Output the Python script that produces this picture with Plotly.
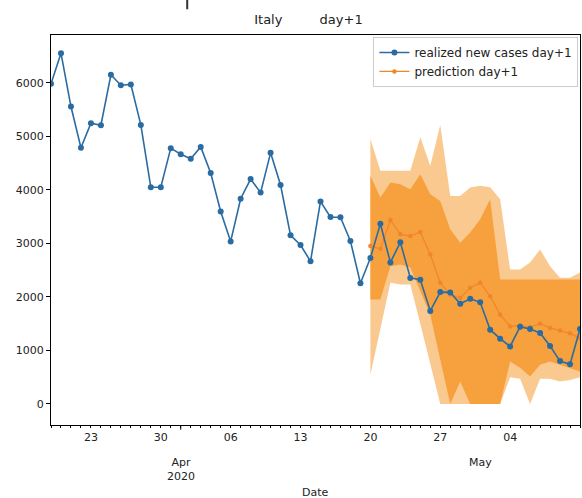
import plotly.graph_objects as go
import pandas as pd

# ---- data ----
realized_dates = pd.date_range("2020-03-19", "2020-05-11", freq="D")
realized_values = [
    5986, 6557, 5560, 4789, 5249, 5210, 6153, 5959, 5974, 5217, 4050, 4053, 4782,
    4668, 4585, 4805, 4316, 3599, 3039, 3836, 4204, 3951, 4694, 4092, 3153, 2972,
    2667, 3786, 3493, 3491, 3047, 2256, 2729, 3370, 2646, 3021, 2357, 2324, 1739,
    2091, 2086, 1872, 1965,
    1900, 1389, 1221, 1075, 1444, 1401, 1327, 1083, 802, 744, 1402,
]

pred_dates = pd.date_range("2020-04-20", "2020-05-11", freq="D")
pred_values = [2951, 2902, 3439, 3171, 3139, 3214, 2795, 2264, 2045, 1983, 2171,
               2264, 2013, 1670, 1450, 1470, 1439, 1500, 1420, 1375, 1320, 1230]
outer_upper = [4953, 4358, 4358, 4358, 4358, 4985, 4452, 5216, 3889, 3889, 4047,
               4077, 4053, 3827, 2514, 2514, 2645, 2889, 2576, 2358, 2358, 2458]
outer_lower = [544, 1400, 2264, 2233, 2233, 1500, 750, 0, 0, 0, 0,
               0, 0, 0, 500, 470, 0, 470, 470, 420, 450, 500]
inner_upper = [4265, 3859, 4141, 4109, 4015, 4296, 3921, 3795, 3265, 3015, 3203,
               3452, 3827, 2326, 2326, 2326, 2326, 2326, 2326, 2326, 2326, 2326]
inner_lower = [1951, 1951, 2576, 2608, 2550, 2107, 1670, 826, 0, 418, 0,
               0, 0, 0, 794, 675, 512, 732, 794, 732, 675, 606]

week_ticks = ["2020-03-23", "2020-03-30", "2020-04-06", "2020-04-13",
              "2020-04-20", "2020-04-27", "2020-05-04", "2020-05-11"]
week_labels = ["23", "30", "06", "13", "20", "27", "04", "11"]
month_ticks = ["2020-04-01", "2020-05-01"]
month_labels = ["Apr<br>2020", "May"]
y_ticks = [0, 1000, 2000, 3000, 4000, 5000, 6000]

FONT = "DejaVu Sans"
BLUE = "#2a6ca2"
ORANGE = "#f0852c"
LIGHT = "#fac98f"
DARK = "#f7a13e"

fig = go.Figure()

# outer band
fig.add_trace(go.Scatter(x=pred_dates, y=outer_lower, mode="lines",
                         line=dict(width=0), showlegend=False, hoverinfo="skip"))
fig.add_trace(go.Scatter(x=pred_dates, y=outer_upper, mode="lines",
                         line=dict(width=0), fill="tonexty", fillcolor=LIGHT,
                         showlegend=False, hoverinfo="skip"))
# inner band
fig.add_trace(go.Scatter(x=pred_dates, y=inner_lower, mode="lines",
                         line=dict(width=0), showlegend=False, hoverinfo="skip"))
fig.add_trace(go.Scatter(x=pred_dates, y=inner_upper, mode="lines",
                         line=dict(width=0), fill="tonexty", fillcolor=DARK,
                         showlegend=False, hoverinfo="skip"))

fig.add_trace(go.Scatter(x=pred_dates, y=pred_values, mode="lines+markers",
                         name="prediction day+1", legendrank=2,
                         line=dict(color=ORANGE, width=1.2),
                         marker=dict(color=ORANGE, size=4.5)))
fig.add_trace(go.Scatter(x=realized_dates, y=realized_values, mode="lines+markers",
                         name="realized new cases day+1", legendrank=1,
                         line=dict(color=BLUE, width=1.6),
                         marker=dict(color=BLUE, size=6)))

fig.update_layout(
    width=582, height=498,
    margin=dict(l=51, r=2, t=35, b=73),
    paper_bgcolor="white", plot_bgcolor="white",
    font=dict(family=FONT, size=11, color="#222"),
    title=dict(text="Italy" + "\u00a0" * 9 + "day+1", x=0.53, xanchor="center",
               y=1 - 19 / 498, yanchor="middle", yref="container",
               font=dict(family=FONT, size=13, color="#222")),
    legend=dict(x=0.997, xanchor="right", y=0.995, yanchor="top",
                traceorder="normal",
                bgcolor="white", bordercolor="#cccccc", borderwidth=1,
                font=dict(family=FONT, size=12, color="#222"),
                tracegroupgap=0, itemwidth=30),
    showlegend=True,
)

fig.update_xaxes(
    type="date", range=["2020-03-19", "2020-05-11"],
    tickmode="array", tickvals=week_ticks, ticktext=week_labels,
    ticks="outside", ticklen=2, tickcolor="black", tickwidth=1,
    minor=dict(tickvals=list(realized_dates), ticks="outside", ticklen=2,
               tickcolor="black", tickwidth=1, showgrid=False),
    showline=True, linecolor="black", linewidth=1, mirror=True,
    showgrid=False, zeroline=False,
    tickfont=dict(family=FONT, size=11, color="#222"),
)
fig.update_yaxes(
    range=[-393, 6897],
    tickmode="array", tickvals=y_ticks, ticktext=[str(v) for v in y_ticks],
    ticks="outside", ticklen=4, tickcolor="black", tickwidth=1,
    showline=True, linecolor="black", linewidth=1, mirror=True,
    showgrid=False, zeroline=False,
    tickfont=dict(family=FONT, size=11, color="#222"),
)

# month ticks (longer) and labels
for d, lab in zip(month_ticks, month_labels):
    fig.add_shape(type="line", xref="x", yref="paper", x0=d, x1=d, y0=0, y1=-0.012,
                  line=dict(color="black", width=1))
    fig.add_annotation(x=d, xref="x", yref="paper",
                       y=-0.114 if "<br>" in lab else -0.0974,
                       yanchor="middle", text=lab, showarrow=False,
                       font=dict(family=FONT, size=11, color="#222"))

fig.add_annotation(x=0.5, xref="paper", y=-0.172, yref="paper", yanchor="middle",
                   text="Date", showarrow=False,
                   font=dict(family=FONT, size=11, color="#222"))

# small dark mark at top of the picture
fig.add_shape(type="line", xref="paper", yref="paper", x0=0.2575, x1=0.2575,
              y0=1.092, y1=1.066, line=dict(color="#333", width=2))

fig.write_html("out.html",
               config={"displayModeBar": False, "staticPlot": True},
               post_script="document.body.style.margin='0';document.body.style.overflow='hidden';")
